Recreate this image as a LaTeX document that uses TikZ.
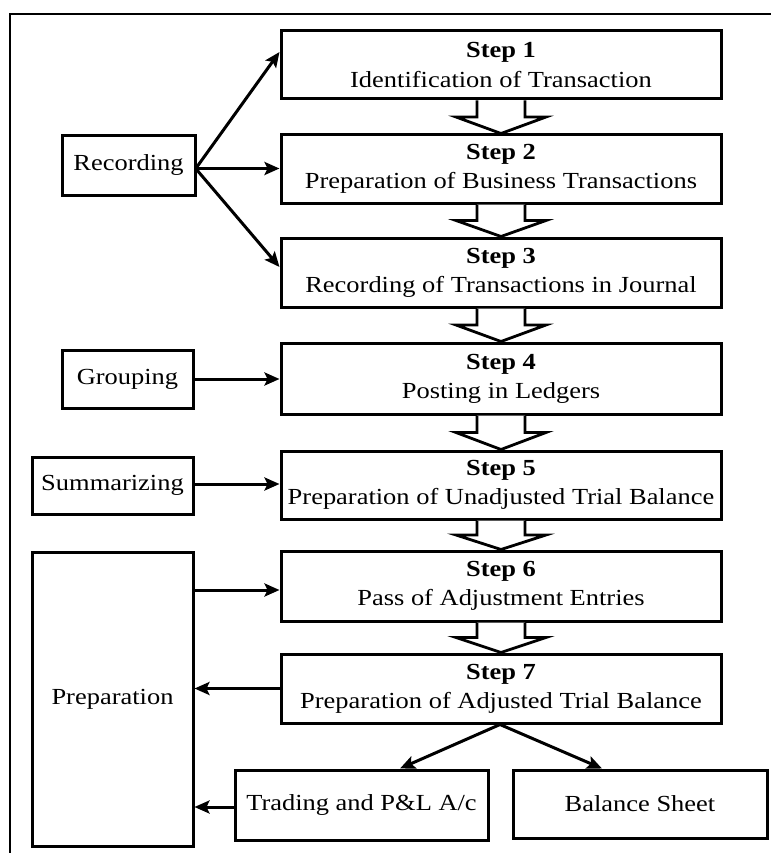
\documentclass[tikz,border=0pt]{standalone}
\usepackage{fontspec}
\setmainfont{Liberation Serif}[FakeStretch=1.15]
\usetikzlibrary{calc,arrows.meta}
\begin{document}
\begin{tikzpicture}[x=1pt,y=-1pt,
  box/.style={draw,line width=3pt,inner sep=0pt,align=center,
    font=\fontsize{23}{29}\selectfont},
  stepbox/.style={box,minimum width=440pt},
  link/.style={line width=3pt,-{Stealth[length=15pt,width=13pt,inset=3pt]}},
  blockarrow/.style={draw,line width=2.8pt,fill=white,line join=miter}]
\useasboundingbox (0,0) rectangle (771,853);
% outer frame (top and left edges)
\draw[line width=2.2pt] (10,853) -- (10,14) -- (771,14);

% the seven steps
\node[stepbox,minimum height=68pt] (s1) at (501,65)    {\textbf{Step 1}\\Identification of Transaction};
\node[stepbox,minimum height=68pt] (s2) at (501,169)   {\textbf{Step 2}\\Preparation of Business Transactions};
\node[stepbox,minimum height=69pt] (s3) at (501,272.5) {\textbf{Step 3}\\Recording of Transactions in Journal};
\node[stepbox,minimum height=71pt] (s4) at (501,378.5) {\textbf{Step 4}\\Posting in Ledgers};
\node[stepbox,minimum height=68pt] (s5) at (501,485)   {\textbf{Step 5}\\Preparation of Unadjusted Trial Balance};
\node[stepbox,minimum height=70pt] (s6) at (501,586)   {\textbf{Step 6}\\Pass of Adjustment Entries};
\node[stepbox,minimum height=69pt] (s7) at (501,688.5) {\textbf{Step 7}\\Preparation of Adjusted Trial Balance};

% stages on the left
\node[box,minimum width=133pt,minimum height=59pt]  (rec)  at (128.5,165.5) {Recording};
\node[box,minimum width=131pt,minimum height=58pt]  (grp)  at (127.5,379)   {Grouping};
\node[box,minimum width=161pt,minimum height=57pt]  (sum)  at (112.5,485.5) {Summarizing};
\node[box,minimum width=161pt,minimum height=294pt] (prep) at (112.5,699)   {Preparation};

% final statements
\node[box,minimum width=253pt,minimum height=70pt] (tr) at (361.5,805) {Trading and P\&L A/c};
\node[box,minimum width=254pt,minimum height=68pt] (bs) at (640,804)   {Balance Sheet};

% hollow arrows between consecutive steps
\foreach \a/\b in {s1/s2,s2/s3,s3/s4,s4/s5,s5/s6,s6/s7}{
  \path[blockarrow] let \p1=(\a.south), \p2=(\b.north), \n1={(\y1+\y2)/2} in
    (\x1-24pt,\y1) -- (\x1-24pt,\n1) -- (\x1-45pt,\n1) -- (\x1,\y2)
    -- (\x1+45pt,\n1) -- (\x1+24pt,\n1) -- (\x1+24pt,\y1);
}

% stage links
\draw[link] ([yshift=-2pt]rec.east) -- ([yshift=13pt]s1.west);
\draw[link] ([yshift=-3pt]rec.east) -- ([yshift=-3pt]rec.east -| s2.west);
\draw[link] ([yshift=-4pt]rec.east) -- ([yshift=5.5pt]s3.west);
\draw[link] (grp.east) -- (grp.east -| s4.west);
\draw[link] ([yshift=1.5pt]sum.east) -- ([yshift=1.5pt]sum.east -| s5.west);
\draw[link] ([yshift=-4pt]s6.west -| prep.east) -- ([yshift=-4pt]s6.west);
\draw[link] (s7.west) -- (s7.west -| prep.east);
\draw[link] ([yshift=-2pt]tr.west) -- ([yshift=-2pt]tr.west -| prep.east);

% branches to the final statements
\draw[link] ([xshift=-1pt]s7.south) -- ([xshift=38.5pt]tr.north);
\draw[link] ([xshift=-1pt]s7.south) -- ([xshift=-38pt]bs.north);
\end{tikzpicture}
\end{document}
